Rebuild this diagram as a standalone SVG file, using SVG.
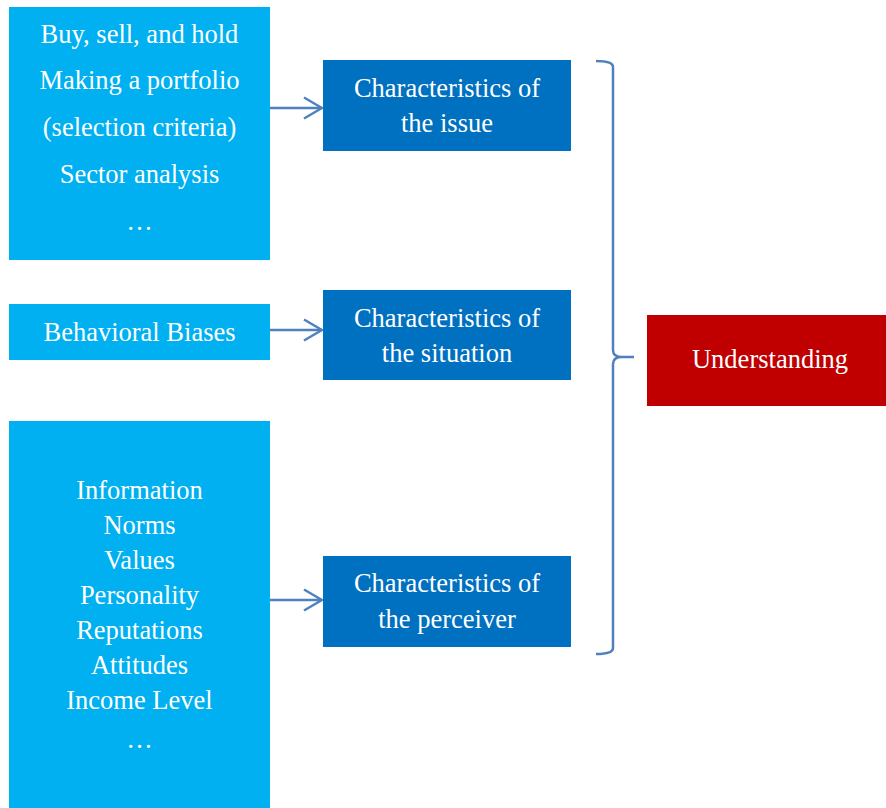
<svg xmlns="http://www.w3.org/2000/svg" width="886" height="808" viewBox="0 0 886 808">
<defs>
<style>
.src{fill:#00B0F0}
.mid{fill:#0070C0}
.out{fill:#C00000}
text{font-family:'Liberation Serif',serif;font-size:26.5px;fill:#FFFFFF;text-anchor:middle}
.conn{stroke:#4F81BD;stroke-width:2.5;fill:none}
</style>
<marker id="arr" markerWidth="20" markerHeight="24" refX="19" refY="12" orient="auto" markerUnits="userSpaceOnUse">
<path d="M1,1.5 L19,12 L1,22.5" fill="none" stroke="#4F81BD" stroke-width="2.5"/>
</marker>
</defs>
<rect width="886" height="808" fill="#FFFFFF"/>
<g id="box-issue-factors">
<rect class="src" x="9" y="7" width="261" height="253"/>
<text x="139.5" y="43">Buy, sell, and hold</text>
<text x="139.5" y="89">Making a portfolio</text>
<text x="139.5" y="136">(selection criteria)</text>
<text x="139.5" y="183">Sector analysis</text>
<text x="139.5" y="230">…</text>
</g>
<g id="box-biases">
<rect class="src" x="9" y="304" width="261" height="56"/>
<text x="139.5" y="341">Behavioral Biases</text>
</g>
<g id="box-perceiver-factors">
<rect class="src" x="9" y="421" width="261" height="387"/>
<text x="139.5" y="499">Information</text>
<text x="139.5" y="534">Norms</text>
<text x="139.5" y="569">Values</text>
<text x="139.5" y="604">Personality</text>
<text x="139.5" y="639">Reputations</text>
<text x="139.5" y="674">Attitudes</text>
<text x="139.5" y="709">Income Level</text>
<text x="139.5" y="748">…</text>
</g>
<g id="char-issue">
<rect class="mid" x="323" y="60" width="248" height="91"/>
<text x="447" y="97">Characteristics of</text>
<text x="447" y="132">the issue</text>
</g>
<g id="char-situation">
<rect class="mid" x="323" y="290" width="248" height="90"/>
<text x="447" y="327">Characteristics of</text>
<text x="447" y="362">the situation</text>
</g>
<g id="char-perceiver">
<rect class="mid" x="323" y="556" width="248" height="91"/>
<text x="447" y="592">Characteristics of</text>
<text x="447" y="628">the perceiver</text>
</g>
<g id="understanding">
<rect class="out" x="647" y="315" width="239" height="91"/>
<text x="770" y="368">Understanding</text>
</g>
<g id="connectors">
<line class="conn" x1="270" y1="108" x2="322" y2="108" marker-end="url(#arr)"/>
<line class="conn" x1="270" y1="330" x2="322" y2="330" marker-end="url(#arr)"/>
<line class="conn" x1="270" y1="600" x2="322" y2="600" marker-end="url(#arr)"/>
<path class="conn" d="M596,61 Q613,61 613,67 L613,350 Q613,357 622,357 L634,357 M622,357 Q613,357 613,364 L613,648 Q613,654 596,654"/>
</g>
</svg>
